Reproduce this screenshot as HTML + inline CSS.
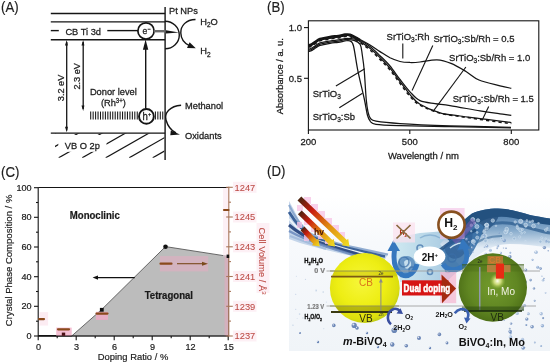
<!DOCTYPE html>
<html><head><meta charset="utf-8"><style>
html,body{margin:0;padding:0;background:#fff;width:550px;height:363px;overflow:hidden}
svg{display:block;filter:blur(0.45px)}
text{font-family:"Liberation Sans", sans-serif}
</style></head><body>
<svg width="550" height="363" viewBox="0 0 550 363">
<text x="1" y="11.9" font-size="13.2" fill="#202020" stroke="#202020" stroke-width="0.15" transform="matrix(1 0 0 1.075 0 -0.892)">(A)</text>
<g stroke="#151515" stroke-width="1.4" fill="none">
<line x1="50.8" y1="13.5" x2="165.1" y2="13.5"/>
<line x1="50.8" y1="21.9" x2="165.1" y2="21.9"/>
<line x1="50.8" y1="39.8" x2="165.1" y2="39.8"/>
<line x1="50.8" y1="133.1" x2="165.1" y2="133.1"/>
<line x1="50.8" y1="30.6" x2="58.8" y2="30.6"/>
<line x1="107.3" y1="30.6" x2="138" y2="30.6"/>
<line x1="165.1" y1="7" x2="165.1" y2="160"/>
<circle cx="146" cy="30.9" r="8.1" stroke-width="1.7" fill="#fff"/>
<circle cx="146.4" cy="116.4" r="7.4" stroke-width="1.9" fill="#fff"/>
<line x1="145.7" y1="108.8" x2="145.7" y2="46"/>
<line x1="66.7" y1="42" x2="66.7" y2="130.5" stroke-width="1.3"/>
<line x1="83.2" y1="42" x2="83.2" y2="109" stroke-width="1.3"/>
<path d="M165.1,21.2 A14.2,13.8 0 0 1 165.1,48.8"/>
<path d="M195.5,19.5 C186,19.5 180.5,26 180.8,33 C181,38 184,43 189,45.3"/>
<path d="M181.1,105.2 C170,106 164,113 166,120 C168,127 172,131 176,133"/>

</g>
<g fill="#151515">
<path d="M145.6,39.6 L142.9,49.8 L148.3,49.8 Z"/>
<path d="M66.7,40 L65.0,45.5 L67.9,45.5 Z"/>
<path d="M66.7,132.2 L65.0,126.8 L67.9,126.8 Z"/>
<path d="M83.2,40 L81.5,45.5 L84.4,45.5 Z"/>
<path d="M83.2,111 L81.5,105.5 L84.4,105.5 Z"/>
<path d="M166,30.2 L179,32.6 L166,33.5 Z"/>
<path d="M195.8,48.3 L189.6,42.2 L187,47.9 Z"/>
<path d="M180,134.5 L170.8,130.4 L170.3,135.2 Z"/>
</g>
<g stroke="#151515" stroke-width="1.05">
<line x1="90.70" y1="111.6" x2="90.70" y2="119.6"/>
<line x1="93.15" y1="111.6" x2="93.15" y2="119.6"/>
<line x1="95.60" y1="111.6" x2="95.60" y2="119.6"/>
<line x1="98.05" y1="111.6" x2="98.05" y2="119.6"/>
<line x1="100.50" y1="111.6" x2="100.50" y2="119.6"/>
<line x1="102.95" y1="111.6" x2="102.95" y2="119.6"/>
<line x1="105.40" y1="111.6" x2="105.40" y2="119.6"/>
<line x1="107.85" y1="111.6" x2="107.85" y2="119.6"/>
<line x1="110.30" y1="111.6" x2="110.30" y2="119.6"/>
<line x1="112.75" y1="111.6" x2="112.75" y2="119.6"/>
<line x1="115.20" y1="111.6" x2="115.20" y2="119.6"/>
<line x1="117.65" y1="111.6" x2="117.65" y2="119.6"/>
<line x1="120.10" y1="111.6" x2="120.10" y2="119.6"/>
<line x1="122.55" y1="111.6" x2="122.55" y2="119.6"/>
<line x1="125.00" y1="111.6" x2="125.00" y2="119.6"/>
<line x1="127.45" y1="111.6" x2="127.45" y2="119.6"/>
<line x1="129.90" y1="111.6" x2="129.90" y2="119.6"/>
<line x1="132.35" y1="111.6" x2="132.35" y2="119.6"/>
<line x1="134.80" y1="111.6" x2="134.80" y2="119.6"/>
<line x1="137.25" y1="111.6" x2="137.25" y2="119.6"/>
<line x1="155.40" y1="111.6" x2="155.40" y2="119.6"/>
<line x1="157.85" y1="111.6" x2="157.85" y2="119.6"/>
<line x1="160.30" y1="111.6" x2="160.30" y2="119.6"/>
<line x1="162.75" y1="111.6" x2="162.75" y2="119.6"/>
</g>
<rect x="154" y="30" width="11.5" height="2.4" fill="#6a6a6a"/>
<defs><clipPath id="hc"><rect x="55" y="133.6" width="109.3" height="24.2"/></clipPath></defs>
<g clip-path="url(#hc)" stroke="#151515" stroke-width="1.2">
<line x1="11.7" y1="157.8" x2="78.0" y2="120"/>
<line x1="35.2" y1="157.8" x2="101.5" y2="120"/>
<line x1="58.7" y1="157.8" x2="125.0" y2="120"/>
<line x1="82.2" y1="157.8" x2="148.5" y2="120"/>
<line x1="105.7" y1="157.8" x2="172.0" y2="120"/>
<line x1="129.2" y1="157.8" x2="195.5" y2="120"/>
<line x1="152.7" y1="157.8" x2="219.0" y2="120"/>
<line x1="176.2" y1="157.8" x2="242.5" y2="120"/>
</g>
<rect x="58.3" y="135" width="48.2" height="16.8" fill="#fff"/>
<g font-size="9.3" fill="#202020" stroke="#202020" stroke-width="0.26">
<text x="65.4" y="34.8" transform="matrix(1 0 0 1.050 0 -1.740)">CB Ti 3d</text>
<text x="169" y="14.5" transform="matrix(1 0 0 1.050 0 -0.725)">Pt NPs</text>
<text x="200.2" y="24.8" transform="matrix(1 0 0 1.050 0 -1.240)">H<tspan font-size="6.5" dy="2">2</tspan><tspan dy="-2">O</tspan></text>
<text x="200.2" y="54.5" transform="matrix(1 0 0 1.050 0 -2.725)">H<tspan font-size="6.5" dy="2">2</tspan></text>
<text x="89.9" y="95.1" transform="matrix(1 0 0 1.050 0 -4.755)">Donor level</text>
<text x="100.9" y="106.2" transform="matrix(1 0 0 1.050 0 -5.310)">(Rh<tspan font-size="6" dy="-3.3">3+</tspan><tspan dy="3.3">)</tspan></text>
<text x="185" y="109.5" transform="matrix(1 0 0 1.050 0 -5.475)">Methanol</text>
<text x="185" y="139.4" transform="matrix(1 0 0 1.050 0 -6.970)">Oxidants</text>
<text x="64.8" y="148.6" transform="matrix(1 0 0 1.050 0 -7.430)">VB O 2p</text>
<text transform="translate(63.6,101.2) rotate(-90)" font-size="9.2">3.2 eV</text>
<text transform="translate(80.4,89.6) rotate(-90)" font-size="9.2">2.3 eV</text>
<text x="142.6" y="34.2" font-size="8.6" transform="matrix(1 0 0 1.050 0 -1.710)">e<tspan font-size="5.5" dy="-3.4">−</tspan></text>
<text x="142.6" y="120.2" font-size="9.6" transform="matrix(1 0 0 1.050 0 -6.010)">h<tspan font-size="5.5" dy="-4.2">+</tspan></text>
</g>
<text x="267" y="11.9" font-size="13.2" fill="#202020" stroke="#202020" stroke-width="0.15" transform="matrix(1 0 0 1.075 0 -0.892)">(B)</text>
<rect x="308.4" y="20.8" width="230.4" height="109.2" fill="none" stroke="#151515" stroke-width="1.1"/>
<g stroke="#151515" stroke-width="1.1">
<line x1="304" y1="27.6" x2="308.4" y2="27.6"/><line x1="304" y1="78.3" x2="308.4" y2="78.3"/>
<line x1="308.4" y1="130" x2="308.4" y2="134"/>
<line x1="409.8" y1="130" x2="409.8" y2="134"/>
<line x1="511.3" y1="130" x2="511.3" y2="134"/>
</g>
<g font-size="9.5" fill="#202020" stroke="#202020" stroke-width="0.26">
<text x="302" y="31" text-anchor="end" transform="matrix(1 0 0 1.050 0 -1.550)">1.0</text>
<text x="302" y="81.6" text-anchor="end" transform="matrix(1 0 0 1.050 0 -4.080)">0.5</text>
<text x="308.4" y="145.3" text-anchor="middle" transform="matrix(1 0 0 1.050 0 -7.265)">200</text>
<text x="409.8" y="145.3" text-anchor="middle" transform="matrix(1 0 0 1.050 0 -7.265)">500</text>
<text x="511.3" y="145.3" text-anchor="middle" transform="matrix(1 0 0 1.050 0 -7.265)">800</text>
<text x="388" y="158.6" transform="matrix(1 0 0 1.050 0 -7.930)">Wavelength / nm</text>
<text transform="translate(283.4,114.3) rotate(-90)" font-size="9.4">Absorbance / a. u.</text>
<text x="386.6" y="39.8" transform="matrix(1 0 0 1.050 0 -1.990)">SrTiO<tspan font-size="6.5" dy="2">3</tspan><tspan dy="-2">:Rh</tspan></text>
<text x="433.4" y="41.8" transform="matrix(1 0 0 1.050 0 -2.090)">SrTiO<tspan font-size="6.5" dy="2">3</tspan><tspan dy="-2">:Sb/Rh = 0.5</tspan></text>
<text x="449.1" y="61.3" transform="matrix(1 0 0 1.050 0 -3.065)">SrTiO<tspan font-size="6.5" dy="2">3</tspan><tspan dy="-2">:Sb/Rh = 1.0</tspan></text>
<text x="452.7" y="102.2" transform="matrix(1 0 0 1.050 0 -5.110)">SrTiO<tspan font-size="6.5" dy="2">3</tspan><tspan dy="-2">:Sb/Rh = 1.5</tspan></text>
<text x="312.7" y="97" transform="matrix(1 0 0 1.050 0 -4.850)">SrTiO<tspan font-size="6.5" dy="2">3</tspan><tspan dy="-2"></tspan></text>
<text x="312.7" y="120.2" transform="matrix(1 0 0 1.050 0 -6.010)">SrTiO<tspan font-size="6.5" dy="2">3</tspan><tspan dy="-2">:Sb</tspan></text>
</g>
<g stroke="#151515" stroke-width="1.1">
<line x1="402.8" y1="43.5" x2="402.8" y2="58.4"/>
<line x1="432.8" y1="45.5" x2="412.1" y2="90.5"/>
<line x1="465.9" y1="67" x2="433.1" y2="111.3"/>
<line x1="488.7" y1="106.4" x2="482.7" y2="119.1"/>
<line x1="335.9" y1="86" x2="364.8" y2="68.7"/>
<line x1="339.3" y1="107.8" x2="362.5" y2="93.2"/>
</g>
<g fill="none" stroke="#151515" stroke-width="1.25" stroke-linejoin="round">
<path d="M308.5,45.2 C309.1,45.0 310.8,44.7 312.0,44.0 C313.2,43.3 314.7,42.1 316.0,41.2 C317.3,40.3 318.5,39.4 320.0,38.8 C321.5,38.2 323.3,38.1 325.0,37.8 C326.7,37.5 328.3,37.2 330.0,36.9 C331.7,36.6 333.3,36.4 335.0,36.2 C336.7,36.0 338.3,35.9 340.0,35.6 C341.7,35.3 343.3,34.6 345.0,34.4 C346.7,34.2 348.2,34.0 350.0,34.5 C351.8,35.0 354.3,36.6 356.0,37.5 C357.7,38.4 359.3,39.4 360.0,39.8" fill="none" stroke="#151515" stroke-width="2.2"/>
<path d="M308.5,51.6 C309.1,51.4 310.8,51.1 312.0,50.4 C313.2,49.7 314.7,48.5 316.0,47.6 C317.3,46.8 318.5,45.8 320.0,45.3 C321.5,44.8 323.3,44.6 325.0,44.3 C326.7,44.0 328.3,43.7 330.0,43.4 C331.7,43.1 333.3,42.9 335.0,42.7 C336.7,42.5 338.3,42.4 340.0,42.1 C341.7,41.8 343.3,41.1 345.0,40.9 C346.7,40.7 348.6,40.1 350.0,41.0 C351.4,41.9 352.2,40.9 353.5,46.0 C354.8,51.1 356.2,62.6 358.0,71.4 C359.8,80.2 362.7,91.7 364.3,99.0 C365.9,106.3 366.4,111.2 367.4,115.0 C368.4,118.8 369.1,120.0 370.5,121.6 C371.9,123.1 371.1,123.6 376.0,124.3 C380.9,125.0 387.7,125.2 400.0,125.6 C412.3,126.0 431.5,126.3 450.0,126.7 C468.5,127.1 500.8,127.7 511.0,127.9"/>
<path d="M308.5,50.4 C309.1,50.2 310.8,49.9 312.0,49.2 C313.2,48.5 314.7,47.2 316.0,46.4 C317.3,45.5 318.5,44.6 320.0,44.1 C321.5,43.5 323.3,43.4 325.0,43.1 C326.7,42.8 328.3,42.5 330.0,42.2 C331.7,41.9 333.3,41.7 335.0,41.5 C336.7,41.3 338.3,41.2 340.0,40.9 C341.7,40.6 342.7,39.8 345.0,39.7 C347.3,39.6 351.5,39.5 354.0,40.3 C356.5,41.1 358.8,42.0 360.2,44.5 C361.6,47.0 361.6,50.5 362.3,55.0 C363.0,59.5 363.7,64.1 364.3,71.4 C364.9,78.7 365.6,92.2 366.2,99.0 C366.8,105.8 367.3,108.8 368.0,112.0 C368.7,115.2 369.2,117.0 370.5,118.5 C371.8,120.0 371.1,120.4 376.0,121.2 C380.9,122.0 387.7,122.8 400.0,123.6 C412.3,124.4 431.5,125.2 450.0,125.8 C468.5,126.4 500.8,127.0 511.0,127.3"/>
<path d="M308.5,45.6 C309.1,45.4 310.8,45.1 312.0,44.4 C313.2,43.7 314.7,42.5 316.0,41.6 C317.3,40.8 318.5,39.8 320.0,39.3 C321.5,38.8 323.3,38.6 325.0,38.3 C326.7,38.0 328.3,37.7 330.0,37.4 C331.7,37.1 333.3,36.9 335.0,36.7 C336.7,36.5 338.3,36.4 340.0,36.1 C341.7,35.8 343.3,35.1 345.0,34.9 C346.7,34.7 347.5,34.2 350.0,35.0 C352.5,35.8 356.7,37.8 360.0,39.5 C363.3,41.2 366.7,43.0 370.0,45.0 C373.3,47.0 376.7,49.5 380.0,51.6 C383.3,53.7 386.7,56.1 390.0,57.8 C393.3,59.4 396.7,60.7 400.0,61.5 C403.3,62.3 406.7,62.4 410.0,62.5 C413.3,62.6 415.5,62.5 420.0,62.0 C424.5,61.5 431.8,59.6 437.0,59.8 C442.2,60.0 446.2,61.4 451.0,63.4 C455.8,65.3 461.3,68.7 466.0,71.5 C470.7,74.3 473.3,77.6 479.0,80.0 C484.7,82.4 494.6,84.4 500.0,85.8 C505.4,87.2 509.4,87.9 511.3,88.3"/>
<path d="M308.5,49.2 C309.1,49.0 310.8,48.7 312.0,48.0 C313.2,47.3 314.7,46.1 316.0,45.2 C317.3,44.4 318.5,43.5 320.0,42.9 C321.5,42.3 323.3,42.2 325.0,41.9 C326.7,41.6 328.3,41.3 330.0,41.0 C331.7,40.7 333.3,40.5 335.0,40.3 C336.7,40.1 338.3,40.0 340.0,39.7 C341.7,39.4 343.3,38.7 345.0,38.5 C346.7,38.3 347.5,38.3 350.0,38.6 C352.5,38.9 356.7,39.2 360.0,40.5 C363.3,41.8 366.7,44.1 370.0,46.6 C373.3,49.1 376.7,52.5 380.0,55.7 C383.3,58.9 386.7,62.0 390.0,66.0 C393.3,70.0 396.7,75.2 400.0,79.5 C403.3,83.8 406.7,88.4 410.0,91.9 C413.3,95.4 415.8,98.6 420.0,100.6 C424.2,102.5 430.0,102.8 435.0,103.6 C440.0,104.4 442.5,104.4 450.0,105.6 C457.5,106.8 471.7,109.5 480.0,110.9 C488.3,112.3 494.8,113.1 500.0,113.8 C505.2,114.5 509.4,115.0 511.3,115.3"/>
<path d="M308.5,46.5 C309.1,46.3 310.8,46.0 312.0,45.3 C313.2,44.6 314.7,43.4 316.0,42.5 C317.3,41.6 318.5,40.8 320.0,40.2 C321.5,39.6 323.3,39.5 325.0,39.2 C326.7,38.9 328.3,38.6 330.0,38.3 C331.7,38.0 333.3,37.8 335.0,37.6 C336.7,37.4 338.3,37.3 340.0,37.0 C341.7,36.7 343.3,36.0 345.0,35.8 C346.7,35.6 347.5,34.9 350.0,35.9 C352.5,36.9 356.7,39.4 360.0,41.5 C363.3,43.6 366.7,45.6 370.0,48.3 C373.3,51.0 376.7,54.3 380.0,57.6 C383.3,60.9 386.7,64.2 390.0,68.2 C393.3,72.2 396.7,77.2 400.0,81.6 C403.3,86.0 406.7,90.8 410.0,94.6 C413.3,98.4 415.0,101.2 420.0,104.2 C425.0,107.2 433.3,110.8 440.0,112.8 C446.7,114.8 453.3,115.0 460.0,116.0 C466.7,117.0 473.3,117.7 480.0,118.6 C486.7,119.5 494.8,120.5 500.0,121.2 C505.2,121.9 509.4,122.4 511.3,122.6"/>
<path d="M308.5,47.2 C309.1,47.0 310.8,46.7 312.0,46.0 C313.2,45.3 314.7,44.1 316.0,43.2 C317.3,42.4 318.5,41.5 320.0,40.9 C321.5,40.3 323.3,40.2 325.0,39.9 C326.7,39.6 328.3,39.3 330.0,39.0 C331.7,38.7 333.3,38.5 335.0,38.3 C336.7,38.1 338.3,38.0 340.0,37.7 C341.7,37.4 343.3,36.7 345.0,36.5 C346.7,36.3 347.5,35.6 350.0,36.6 C352.5,37.6 356.7,40.3 360.0,42.5 C363.3,44.7 366.7,47.2 370.0,50.0 C373.3,52.8 376.7,56.1 380.0,59.4 C383.3,62.7 386.7,66.0 390.0,70.0 C393.3,74.0 396.7,79.0 400.0,83.4 C403.3,87.8 406.7,92.7 410.0,96.3 C413.3,99.9 415.0,102.4 420.0,105.2 C425.0,108.0 433.3,111.2 440.0,113.1 C446.7,115.0 453.3,115.4 460.0,116.4 C466.7,117.5 473.3,118.4 480.0,119.4 C486.7,120.4 494.8,121.5 500.0,122.2 C505.2,122.9 509.4,123.3 511.3,123.5" stroke-dasharray="3.2,3" stroke-width="1.5"/>
</g>
<text x="1" y="176.6" font-size="13.2" fill="#202020" stroke="#202020" stroke-width="0.15" transform="matrix(1 0 0 1.075 0 -13.245)">(C)</text>
<polygon points="38.2,336.0 71.7,336.0 101.7,309.5 165.5,246.6 228.5,256.4 228.5,336.0" fill="#bcbcbc" stroke="#5a5a5a" stroke-width="0.9"/>
<line x1="38.2" y1="335.6" x2="71.7" y2="335.6" stroke="#111" stroke-width="1.4"/>
<rect x="224.5" y="256" width="4" height="80" fill="#e8a8c0" opacity="0.55"/><rect x="223" y="187.5" width="5.5" height="69" fill="#fbe6ee" opacity="0.6"/>
<g stroke="#151515" stroke-width="1.1" fill="none">
<line x1="38.2" y1="187.5" x2="228.5" y2="187.5"/>
<line x1="38.2" y1="187.5" x2="38.2" y2="336"/>
<line x1="38.2" y1="336" x2="228.5" y2="336"/>
<line x1="34" y1="336.0" x2="38.2" y2="336.0"/>
<line x1="34" y1="306.3" x2="38.2" y2="306.3"/>
<line x1="34" y1="276.7" x2="38.2" y2="276.7"/>
<line x1="34" y1="247.0" x2="38.2" y2="247.0"/>
<line x1="34" y1="217.3" x2="38.2" y2="217.3"/>
<line x1="34" y1="187.7" x2="38.2" y2="187.7"/>
<line x1="36" y1="321.2" x2="38.2" y2="321.2"/>
<line x1="36" y1="291.5" x2="38.2" y2="291.5"/>
<line x1="36" y1="261.8" x2="38.2" y2="261.8"/>
<line x1="36" y1="232.2" x2="38.2" y2="232.2"/>
<line x1="36" y1="202.5" x2="38.2" y2="202.5"/>
<line x1="38.2" y1="336" x2="38.2" y2="340.2"/>
<line x1="76.2" y1="336" x2="76.2" y2="340.2"/>
<line x1="114.2" y1="336" x2="114.2" y2="340.2"/>
<line x1="152.2" y1="336" x2="152.2" y2="340.2"/>
<line x1="190.2" y1="336" x2="190.2" y2="340.2"/>
<line x1="228.2" y1="336" x2="228.2" y2="340.2"/>
<line x1="57.2" y1="336" x2="57.2" y2="338.2"/>
<line x1="95.2" y1="336" x2="95.2" y2="338.2"/>
<line x1="133.2" y1="336" x2="133.2" y2="338.2"/>
<line x1="171.2" y1="336" x2="171.2" y2="338.2"/>
<line x1="209.2" y1="336" x2="209.2" y2="338.2"/>
</g>
<g stroke="#a8765a" stroke-width="1.1">
<line x1="228.8" y1="186.8" x2="228.8" y2="336.3"/>
<line x1="226.2" y1="336.0" x2="232.8" y2="336.0"/>
<line x1="226.2" y1="306.3" x2="232.8" y2="306.3"/>
<line x1="226.2" y1="276.5" x2="232.8" y2="276.5"/>
<line x1="226.2" y1="246.8" x2="232.8" y2="246.8"/>
<line x1="226.2" y1="217.0" x2="232.8" y2="217.0"/>
<line x1="226.2" y1="187.3" x2="232.8" y2="187.3"/>
<line x1="228.8" y1="321.1" x2="231" y2="321.1"/>
<line x1="228.8" y1="291.4" x2="231" y2="291.4"/>
<line x1="228.8" y1="261.6" x2="231" y2="261.6"/>
<line x1="228.8" y1="231.9" x2="231" y2="231.9"/>
<line x1="228.8" y1="202.2" x2="231" y2="202.2"/>
</g>
<rect x="233" y="330.5" width="23.5" height="11" fill="#fdeef4" opacity="0.9"/>
<rect x="233" y="300.8" width="23.5" height="11" fill="#fdeef4" opacity="0.9"/>
<rect x="233" y="271.0" width="23.5" height="11" fill="#fdeef4" opacity="0.9"/>
<rect x="233" y="241.3" width="23.5" height="11" fill="#fdeef4" opacity="0.9"/>
<rect x="233" y="211.5" width="23.5" height="11" fill="#fdeef4" opacity="0.9"/>
<rect x="233" y="181.8" width="23.5" height="11" fill="#fdeef4" opacity="0.9"/>
<rect x="256.5" y="223" width="13" height="70" fill="#fdeef4" opacity="0.9"/>
<g font-size="9.3" fill="#bc4a44" stroke="#bc4a44" stroke-width="0.08">
<text x="234.6" y="339.4" transform="matrix(1 0 0 1.050 0 -16.970)">1237</text>
<text x="234.6" y="309.7" transform="matrix(1 0 0 1.050 0 -15.485)">1239</text>
<text x="234.6" y="279.9" transform="matrix(1 0 0 1.050 0 -13.995)">1241</text>
<text x="234.6" y="250.2" transform="matrix(1 0 0 1.050 0 -12.510)">1243</text>
<text x="234.6" y="220.4" transform="matrix(1 0 0 1.050 0 -11.020)">1245</text>
<text x="234.6" y="190.7" transform="matrix(1 0 0 1.050 0 -9.535)">1247</text>
<text transform="translate(259.3,227.6) rotate(90)" font-size="9.3">Cell Volume / Å<tspan font-size="6" dy="-3.2">3</tspan></text>
</g>
<g font-size="9.1" fill="#202020" stroke="#202020" stroke-width="0.2">
<text x="31.6" y="339.2" text-anchor="end" transform="matrix(1 0 0 1.050 0 -16.960)">0</text>
<text x="31.6" y="309.5" text-anchor="end" transform="matrix(1 0 0 1.050 0 -15.475)">20</text>
<text x="31.6" y="279.9" text-anchor="end" transform="matrix(1 0 0 1.050 0 -13.995)">40</text>
<text x="31.6" y="250.2" text-anchor="end" transform="matrix(1 0 0 1.050 0 -12.510)">60</text>
<text x="31.6" y="220.5" text-anchor="end" transform="matrix(1 0 0 1.050 0 -11.025)">80</text>
<text x="31.6" y="190.8" text-anchor="end" transform="matrix(1 0 0 1.050 0 -9.540)">100</text>
<text x="38.6" y="349.8" text-anchor="middle" transform="matrix(1 0 0 1.050 0 -17.490)">0</text>
<text x="76.6" y="349.8" text-anchor="middle" transform="matrix(1 0 0 1.050 0 -17.490)">3</text>
<text x="114.6" y="349.8" text-anchor="middle" transform="matrix(1 0 0 1.050 0 -17.490)">6</text>
<text x="152.6" y="349.8" text-anchor="middle" transform="matrix(1 0 0 1.050 0 -17.490)">9</text>
<text x="190.6" y="349.8" text-anchor="middle" transform="matrix(1 0 0 1.050 0 -17.490)">12</text>
<text x="228.7" y="349.8" text-anchor="middle" transform="matrix(1 0 0 1.050 0 -17.490)">15</text>
</g>
<text x="97.8" y="359.6" font-size="9.4" fill="#202020" stroke="#202020" stroke-width="0.18" transform="matrix(1 0 0 1.050 0 -17.980)">Doping Ratio / %</text>
<text transform="translate(12.3,326.2) rotate(-90)" font-size="9.55" fill="#202020" stroke="#202020" stroke-width="0.18">Crystal Phase Composition / %</text>
<text x="69.8" y="218.7" font-size="9.6" font-weight="bold" fill="#1a1a1a" stroke="#1a1a1a" stroke-width="0.2" transform="matrix(1 0 0 1.050 0 -10.935)">Monoclinic</text>
<text x="144.7" y="299.3" font-size="9.6" font-weight="bold" fill="#1a1a1a" stroke="#1a1a1a" stroke-width="0.2" transform="matrix(1 0 0 1.050 0 -14.965)">Tetragonal</text>
<rect x="39.4" y="312.1" width="8.7" height="13.5" fill="#f0a9c4" opacity="0.22"/>
<rect x="56.2" y="327.6" width="15.5" height="8.1" fill="#f0a9c4" opacity="0.75"/>
<rect x="95.9" y="311.8" width="12.1" height="8.1" fill="#f0a9c4" opacity="0.8"/>
<rect x="159.9" y="256.1" width="48.3" height="15.3" fill="#f0a9c4" opacity="0.45"/>
<g stroke="#8a4a1c" stroke-width="2.2" stroke-linecap="round">
<line x1="39" y1="319.1" x2="44" y2="319.1"/>
<line x1="58" y1="329.3" x2="69" y2="329.3"/>
<line x1="96.5" y1="313.6" x2="107.5" y2="313.6"/>
<line x1="160.5" y1="263.7" x2="171.5" y2="263.7"/>
<line x1="224" y1="210" x2="228.5" y2="210"/>
</g>
<line x1="177" y1="263.7" x2="204" y2="263.7" stroke="#7a4a1c" stroke-width="1.1"/>
<path d="M208,263.7 L202,261.7 L202,265.7 Z" fill="#7a4a1c"/>
<line x1="134.8" y1="277.6" x2="96" y2="277.6" stroke="#111" stroke-width="1.2"/>
<path d="M92.6,277.6 L98,275.4 L98,279.8 Z" fill="#111"/>
<g fill="#111">
<rect x="99.9" y="307.9" width="3.8" height="3.8"/>
<circle cx="165.5" cy="246.8" r="2.3"/>
<rect x="61.8" y="332.6" width="3.4" height="3.2" fill="#4a0f14"/>
<rect x="226.6" y="254.6" width="2.6" height="3.4"/>
</g>
<text x="267" y="176.1" font-size="13.2" fill="#202020" stroke="#202020" stroke-width="0.15" transform="matrix(1 0 0 1.075 0 -13.207)">(D)</text>
<defs>
<radialGradient id="ys" cx="0.45" cy="0.42" r="0.62">
 <stop offset="0" stop-color="#f6f63a"/><stop offset="0.55" stop-color="#eeee14"/><stop offset="0.86" stop-color="#dcde0e"/><stop offset="1" stop-color="#b2c41c"/>
</radialGradient>
<radialGradient id="gs" cx="0.5" cy="0.48" r="0.6">
 <stop offset="0" stop-color="#729a2c"/><stop offset="0.6" stop-color="#608622"/><stop offset="0.88" stop-color="#4e7018"/><stop offset="1" stop-color="#3c5810"/>
</radialGradient>
<radialGradient id="glow" cx="0.5" cy="0.5" r="0.5">
 <stop offset="0" stop-color="#fffff0"/><stop offset="0.45" stop-color="#e8f090" stop-opacity="0.75"/><stop offset="1" stop-color="#a0c040" stop-opacity="0"/>
</radialGradient>
<linearGradient id="bgd" x1="0" y1="0" x2="0" y2="1">
 <stop offset="0" stop-color="#ffffff"/><stop offset="0.3" stop-color="#f7f9fc"/><stop offset="1" stop-color="#f0f4f8"/>
</linearGradient>
<linearGradient id="crest" x1="0" y1="0" x2="0" y2="1">
 <stop offset="0" stop-color="#2c5a88"/><stop offset="0.4" stop-color="#6a96be"/><stop offset="1" stop-color="#e8f1f8" stop-opacity="0"/>
</linearGradient>
<linearGradient id="midw" x1="0" y1="0" x2="1" y2="0">
 <stop offset="0" stop-color="#cfe9f1"/><stop offset="1" stop-color="#9cc0dc"/>
</linearGradient>
</defs>
<rect x="289" y="196" width="261" height="155" fill="url(#bgd)"/>
<path d="M394,238 L420,233 L446,231 L462,228 L468,262 L446,282 L400,282 Z" fill="url(#midw)"/>
<linearGradient id="cg" gradientUnits="userSpaceOnUse" x1="0" y1="212" x2="0" y2="248"><stop offset="0" stop-color="#4a7aaa"/><stop offset="0.5" stop-color="#86aacb"/><stop offset="1" stop-color="#e4edf6"/></linearGradient>
<path d="M440,244 C450,234 460,223 472,213.6 C480,210 488,208.6 498,208.5 C510,209 520,212 530,215 C540,217 546,218 550,218.5 L550,248 C538,246 524,244 510,244 C498,244 488,248 480,254 C474,258 468,264 462,268 Z" fill="url(#cg)"/>
<path d="M462,236 C470,226 478,218 490,212 C496,210 500,212 498,218 C494,226 486,232 476,238 C470,242 464,244 462,236 Z" fill="#1f4a78" opacity="0.75"/>
<path d="M446,238 C456,228 464,219 472,213.6 C480,210 488,208.6 498,208.5 C510,209 520,212 530,215 C540,217 546,218 550,218.5 L550,225 C540,224 530,222 518,219 C506,216 494,216 484,220 C474,225 462,233 452,243 Z" fill="#23517f"/>
<path d="M478,230 C490,222 504,221 518,225 C530,228 542,232 550,233" fill="none" stroke="#2f5f90" stroke-width="3" opacity="0.75"/>
<path d="M470,248 C478,240 490,236 502,236" fill="none" stroke="#3a6a9a" stroke-width="2" opacity="0.6"/>
<path d="M438,258 C444,244 456,234 470,226 C476,222 482,222 484,228 C480,240 472,256 462,266 C452,272 442,268 438,258 Z" fill="#3e74aa" opacity="0.9"/>
<path d="M440,250 C450,242 462,236 476,230" fill="none" stroke="#1d4a7a" stroke-width="3" opacity="0.8"/>
<path d="M398,262 C402,255 410,254 414,260 C418,266 414,274 406,275 C400,275 396,268 398,262 Z" fill="#4a7fb5" opacity="0.75"/>
<path d="M404,262 C406,259 410,259 411,263 C412,267 408,270 405,268 Z" fill="#cfe6f2" opacity="0.9"/>
<path d="M444,246 C452,238 462,232 472,230 C474,238 470,248 462,256 C454,262 446,258 444,246 Z" fill="#2f5f95" opacity="0.7"/>
<path d="M450,248 C455,244 460,242 464,244" fill="none" stroke="#d8ecf5" stroke-width="1.4" opacity="0.9"/>
<path d="M420,238 C426,234 434,234 440,238" fill="none" stroke="#7aa6cc" stroke-width="1.5" opacity="0.7"/>
<circle cx="404" cy="262" r="5" fill="none" stroke="#3a6ea6" stroke-width="1.6" opacity="0.7"/>
<circle cx="412" cy="270" r="3" fill="none" stroke="#3a6ea6" stroke-width="1.6" opacity="0.7"/>
<circle cx="420" cy="248" r="3" fill="none" stroke="#3a6ea6" stroke-width="1.6" opacity="0.7"/>
<circle cx="430" cy="272" r="2.5" fill="none" stroke="#3a6ea6" stroke-width="1.6" opacity="0.7"/>
<circle cx="452" cy="258" r="4" fill="none" stroke="#3a6ea6" stroke-width="1.6" opacity="0.7"/>
<circle cx="460" cy="248" r="3" fill="none" stroke="#3a6ea6" stroke-width="1.6" opacity="0.7"/>
<circle cx="448" cy="270" r="2.5" fill="none" stroke="#3a6ea6" stroke-width="1.6" opacity="0.7"/>
<path d="M289.0,201.0 L294.0,210.0 L300.0,222.0 L310.0,233.0 L325.0,240.5 L345.0,246.0 L370.0,251.0 L388.0,254.0 L384.0,261.0 L370.0,258.5 L345.0,254.5 L320.0,248.5 L300.0,243.0 L289.0,239.0 Z" fill="#c4d5ea" opacity="1"/>
<path d="M289,205 C293,213 298,223 308,232 C320,240 345,246 388,254.5" fill="none" stroke="#86a4cc" stroke-width="2" opacity="0.9"/>
<path d="M289,212 C294,220 300,229 310,236 C325,243 350,249 385,256.5" fill="none" stroke="#2e5590" stroke-width="2.8" opacity="0.9"/>
<path d="M289,219 C295,226 302,233 314,239 C330,245 355,251 380,258" fill="none" stroke="#f4f8fc" stroke-width="1.6" opacity="0.9"/>
<path d="M289,225 C296,231 305,237 318,242 C335,248 358,254 378,260" fill="none" stroke="#223f7a" stroke-width="3" opacity="0.9"/>
<path d="M289,231 C298,236 310,241 326,246.5 C340,251 354,255 368,260" fill="none" stroke="#6a88bc" stroke-width="2.4" opacity="0.85"/>
<path d="M290,236 C300,240 312,244 326,249" fill="none" stroke="#9eb6da" stroke-width="2" opacity="0.8"/>
<circle cx="505.7" cy="231.9" r="1.9" fill="#9cbad6" stroke="#dbe9f5" stroke-width="0.8" opacity="0.80"/>
<circle cx="506.8" cy="230.7" r="1.5" fill="#9cbad6" stroke="#dbe9f5" stroke-width="0.6" opacity="0.80"/>
<circle cx="484.6" cy="230.8" r="1.5" fill="#9cbad6" stroke="#dbe9f5" stroke-width="0.6" opacity="0.80"/>
<circle cx="532.6" cy="221.2" r="1.1" fill="#9cbad6" stroke="#dbe9f5" stroke-width="0.6" opacity="0.80"/>
<circle cx="477.2" cy="237.6" r="1.6" fill="#9cbad6" stroke="#dbe9f5" stroke-width="0.6" opacity="0.80"/>
<circle cx="473.3" cy="241.6" r="2.0" fill="#9cbad6" stroke="#dbe9f5" stroke-width="0.8" opacity="0.80"/>
<circle cx="521.7" cy="233.2" r="0.9" fill="#9cbad6" stroke="#dbe9f5" stroke-width="0.6" opacity="0.80"/>
<circle cx="471.2" cy="231.2" r="0.8" fill="#9cbad6" stroke="#dbe9f5" stroke-width="0.6" opacity="0.80"/>
<circle cx="485.0" cy="224.6" r="0.7" fill="#9cbad6" stroke="#dbe9f5" stroke-width="0.6" opacity="0.80"/>
<circle cx="506.7" cy="229.1" r="1.8" fill="#9cbad6" stroke="#dbe9f5" stroke-width="0.7" opacity="0.80"/>
<circle cx="511.0" cy="233.7" r="1.3" fill="#9cbad6" stroke="#dbe9f5" stroke-width="0.6" opacity="0.80"/>
<circle cx="522.3" cy="229.5" r="1.1" fill="#9cbad6" stroke="#dbe9f5" stroke-width="0.6" opacity="0.80"/>
<circle cx="548.8" cy="241.9" r="1.8" fill="#9cbad6" stroke="#dbe9f5" stroke-width="0.7" opacity="0.80"/>
<circle cx="525.9" cy="226.3" r="1.0" fill="#9cbad6" stroke="#dbe9f5" stroke-width="0.6" opacity="0.80"/>
<circle cx="492.8" cy="220.6" r="1.7" fill="#9cbad6" stroke="#dbe9f5" stroke-width="0.7" opacity="0.80"/>
<circle cx="501.6" cy="238.5" r="1.2" fill="#9cbad6" stroke="#dbe9f5" stroke-width="0.6" opacity="0.80"/>
<circle cx="545.7" cy="238.5" r="0.7" fill="#9cbad6" stroke="#dbe9f5" stroke-width="0.6" opacity="0.80"/>
<circle cx="486.6" cy="239.9" r="1.3" fill="#9cbad6" stroke="#dbe9f5" stroke-width="0.6" opacity="0.80"/>
<circle cx="547.4" cy="228.1" r="0.8" fill="#9cbad6" stroke="#dbe9f5" stroke-width="0.6" opacity="0.80"/>
<circle cx="519.7" cy="236.9" r="1.1" fill="#9cbad6" stroke="#dbe9f5" stroke-width="0.6" opacity="0.80"/>
<circle cx="476.9" cy="226.6" r="2.0" fill="#9cbad6" stroke="#dbe9f5" stroke-width="0.8" opacity="0.80"/>
<circle cx="529.9" cy="221.7" r="1.0" fill="#9cbad6" stroke="#dbe9f5" stroke-width="0.6" opacity="0.80"/>
<circle cx="478.0" cy="220.4" r="1.7" fill="#9cbad6" stroke="#dbe9f5" stroke-width="0.7" opacity="0.80"/>
<circle cx="484.0" cy="231.9" r="1.3" fill="#9cbad6" stroke="#dbe9f5" stroke-width="0.6" opacity="0.80"/>
<circle cx="485.1" cy="235.8" r="0.9" fill="#9cbad6" stroke="#dbe9f5" stroke-width="0.6" opacity="0.80"/>
<circle cx="520.9" cy="221.7" r="1.2" fill="#9cbad6" stroke="#dbe9f5" stroke-width="0.6" opacity="0.80"/>
<circle cx="486.8" cy="225.2" r="2.0" fill="#9cbad6" stroke="#dbe9f5" stroke-width="0.8" opacity="0.80"/>
<circle cx="533.5" cy="226.0" r="1.9" fill="#9cbad6" stroke="#dbe9f5" stroke-width="0.7" opacity="0.80"/>
<circle cx="486.6" cy="228.1" r="1.8" fill="#9cbad6" stroke="#dbe9f5" stroke-width="0.7" opacity="0.80"/>
<circle cx="520.7" cy="221.3" r="2.0" fill="#9cbad6" stroke="#dbe9f5" stroke-width="0.8" opacity="0.80"/>
<circle cx="486.8" cy="224.9" r="1.7" fill="#9cbad6" stroke="#dbe9f5" stroke-width="0.7" opacity="0.80"/>
<circle cx="496.0" cy="225.8" r="0.8" fill="#9cbad6" stroke="#dbe9f5" stroke-width="0.6" opacity="0.80"/>
<circle cx="477.1" cy="232.4" r="1.0" fill="#9cbad6" stroke="#dbe9f5" stroke-width="0.6" opacity="0.80"/>
<circle cx="517.5" cy="227.5" r="1.3" fill="#9cbad6" stroke="#dbe9f5" stroke-width="0.6" opacity="0.80"/>
<circle cx="545.8" cy="230.1" r="1.4" fill="#9cbad6" stroke="#dbe9f5" stroke-width="0.6" opacity="0.80"/>
<circle cx="538.5" cy="223.2" r="0.9" fill="#9cbad6" stroke="#dbe9f5" stroke-width="0.6" opacity="0.80"/>
<circle cx="541.8" cy="237.8" r="1.0" fill="#9cbad6" stroke="#dbe9f5" stroke-width="0.6" opacity="0.80"/>
<circle cx="485.0" cy="236.0" r="1.9" fill="#9cbad6" stroke="#dbe9f5" stroke-width="0.8" opacity="0.80"/>
<circle cx="485.5" cy="240.9" r="1.8" fill="#9cbad6" stroke="#dbe9f5" stroke-width="0.7" opacity="0.80"/>
<circle cx="517.7" cy="228.7" r="0.8" fill="#9cbad6" stroke="#dbe9f5" stroke-width="0.6" opacity="0.80"/>
<circle cx="473.1" cy="241.1" r="1.0" fill="#9cbad6" stroke="#dbe9f5" stroke-width="0.6" opacity="0.80"/>
<circle cx="525.7" cy="224.9" r="1.8" fill="#9cbad6" stroke="#dbe9f5" stroke-width="0.7" opacity="0.80"/>
<circle cx="517.1" cy="225.7" r="0.9" fill="#9cbad6" stroke="#dbe9f5" stroke-width="0.6" opacity="0.80"/>
<circle cx="526.9" cy="220.6" r="1.0" fill="#9cbad6" stroke="#dbe9f5" stroke-width="0.6" opacity="0.80"/>
<circle cx="514.2" cy="238.6" r="1.5" fill="#9cbad6" stroke="#dbe9f5" stroke-width="0.6" opacity="0.80"/>
<circle cx="492.1" cy="240.1" r="1.0" fill="#9cbad6" stroke="#dbe9f5" stroke-width="0.6" opacity="0.80"/>
<circle cx="471.3" cy="225.2" r="1.3" fill="#9cbad6" stroke="#dbe9f5" stroke-width="0.6" opacity="0.80"/>
<circle cx="474.8" cy="223.1" r="1.2" fill="#9cbad6" stroke="#dbe9f5" stroke-width="0.6" opacity="0.80"/>
<circle cx="515.2" cy="222.0" r="1.2" fill="#9cbad6" stroke="#dbe9f5" stroke-width="0.6" opacity="0.80"/>
<circle cx="540.4" cy="241.6" r="1.6" fill="#9cbad6" stroke="#dbe9f5" stroke-width="0.6" opacity="0.80"/>
<circle cx="524.6" cy="232.4" r="0.9" fill="#9cbad6" stroke="#dbe9f5" stroke-width="0.6" opacity="0.80"/>
<circle cx="472.8" cy="219.4" r="1.9" fill="#9cbad6" stroke="#dbe9f5" stroke-width="0.8" opacity="0.80"/>
<circle cx="525.4" cy="241.1" r="0.7" fill="#9cbad6" stroke="#dbe9f5" stroke-width="0.6" opacity="0.80"/>
<circle cx="520.3" cy="230.1" r="1.6" fill="#9cbad6" stroke="#dbe9f5" stroke-width="0.7" opacity="0.80"/>
<circle cx="495.2" cy="242.0" r="0.8" fill="#9cbad6" stroke="#dbe9f5" stroke-width="0.6" opacity="0.80"/>
<circle cx="526.8" cy="319.1" r="1.7" fill="#4f74ad" opacity="0.70"/>
<circle cx="526.3" cy="318.6" r="0.7" fill="#ffffff" opacity="0.8"/>
<circle cx="536.1" cy="252.2" r="1.8" fill="#8aa8d0" opacity="0.70"/>
<circle cx="535.6" cy="251.7" r="0.7" fill="#ffffff" opacity="0.8"/>
<circle cx="517.2" cy="313.4" r="1.7" fill="#8aa8d0" opacity="0.70"/>
<circle cx="516.7" cy="312.9" r="0.7" fill="#ffffff" opacity="0.8"/>
<circle cx="546.3" cy="241.3" r="1.2" fill="#6f93c4" opacity="0.70"/>
<circle cx="545.9" cy="241.0" r="0.5" fill="#ffffff" opacity="0.8"/>
<circle cx="530.6" cy="280.1" r="1.3" fill="#4f74ad" opacity="0.70"/>
<circle cx="530.2" cy="279.7" r="0.5" fill="#ffffff" opacity="0.8"/>
<circle cx="503.5" cy="248.0" r="0.7" fill="#8aa8d0" opacity="0.70"/>
<circle cx="503.3" cy="247.7" r="0.3" fill="#ffffff" opacity="0.8"/>
<circle cx="543.1" cy="318.1" r="1.1" fill="#4f74ad" opacity="0.70"/>
<circle cx="542.8" cy="317.8" r="0.4" fill="#ffffff" opacity="0.8"/>
<circle cx="534.0" cy="288.4" r="1.2" fill="#4f74ad" opacity="0.70"/>
<circle cx="533.7" cy="288.0" r="0.5" fill="#ffffff" opacity="0.8"/>
<circle cx="504.1" cy="320.5" r="0.6" fill="#4f74ad" opacity="0.70"/>
<circle cx="503.9" cy="320.3" r="0.3" fill="#ffffff" opacity="0.8"/>
<circle cx="504.3" cy="240.5" r="1.7" fill="#6f93c4" opacity="0.70"/>
<circle cx="503.8" cy="239.9" r="0.7" fill="#ffffff" opacity="0.8"/>
<circle cx="524.4" cy="305.6" r="1.7" fill="#8aa8d0" opacity="0.70"/>
<circle cx="523.9" cy="305.1" r="0.7" fill="#ffffff" opacity="0.8"/>
<circle cx="543.9" cy="278.5" r="0.8" fill="#4f74ad" opacity="0.70"/>
<circle cx="543.7" cy="278.2" r="0.3" fill="#ffffff" opacity="0.8"/>
<circle cx="509.9" cy="256.7" r="1.7" fill="#4f74ad" opacity="0.70"/>
<circle cx="509.4" cy="256.2" r="0.7" fill="#ffffff" opacity="0.8"/>
<circle cx="545.6" cy="292.8" r="0.9" fill="#8aa8d0" opacity="0.70"/>
<circle cx="545.3" cy="292.5" r="0.4" fill="#ffffff" opacity="0.8"/>
<circle cx="532.6" cy="259.8" r="1.1" fill="#6f93c4" opacity="0.70"/>
<circle cx="532.3" cy="259.5" r="0.4" fill="#ffffff" opacity="0.8"/>
<circle cx="543.1" cy="280.3" r="1.3" fill="#8aa8d0" opacity="0.70"/>
<circle cx="542.7" cy="279.9" r="0.5" fill="#ffffff" opacity="0.8"/>
<circle cx="510.3" cy="252.8" r="1.0" fill="#6f93c4" opacity="0.70"/>
<circle cx="510.0" cy="252.5" r="0.4" fill="#ffffff" opacity="0.8"/>
<circle cx="534.8" cy="342.5" r="0.9" fill="#6f93c4" opacity="0.70"/>
<circle cx="534.6" cy="342.2" r="0.4" fill="#ffffff" opacity="0.8"/>
<circle cx="505.5" cy="289.8" r="1.7" fill="#8aa8d0" opacity="0.70"/>
<circle cx="505.0" cy="289.3" r="0.7" fill="#ffffff" opacity="0.8"/>
<circle cx="518.7" cy="295.2" r="1.4" fill="#4f74ad" opacity="0.70"/>
<circle cx="518.3" cy="294.8" r="0.6" fill="#ffffff" opacity="0.8"/>
<circle cx="541.1" cy="346.0" r="1.1" fill="#6f93c4" opacity="0.70"/>
<circle cx="540.8" cy="345.7" r="0.5" fill="#ffffff" opacity="0.8"/>
<circle cx="540.6" cy="268.6" r="1.3" fill="#4f74ad" opacity="0.70"/>
<circle cx="540.2" cy="268.2" r="0.5" fill="#ffffff" opacity="0.8"/>
<circle cx="534.7" cy="300.8" r="1.0" fill="#4f74ad" opacity="0.70"/>
<circle cx="534.4" cy="300.5" r="0.4" fill="#ffffff" opacity="0.8"/>
<circle cx="500.9" cy="252.9" r="1.1" fill="#6f93c4" opacity="0.70"/>
<circle cx="500.6" cy="252.6" r="0.5" fill="#ffffff" opacity="0.8"/>
<circle cx="537.7" cy="267.3" r="1.5" fill="#6f93c4" opacity="0.70"/>
<circle cx="537.2" cy="266.8" r="0.6" fill="#ffffff" opacity="0.8"/>
<circle cx="548.2" cy="250.7" r="0.7" fill="#4f74ad" opacity="0.70"/>
<circle cx="548.0" cy="250.5" r="0.3" fill="#ffffff" opacity="0.8"/>
<circle cx="532.1" cy="326.8" r="1.8" fill="#4f74ad" opacity="0.70"/>
<circle cx="531.6" cy="326.3" r="0.7" fill="#ffffff" opacity="0.8"/>
<circle cx="509.7" cy="328.6" r="0.9" fill="#4f74ad" opacity="0.70"/>
<circle cx="509.4" cy="328.3" r="0.4" fill="#ffffff" opacity="0.8"/>
<circle cx="500.5" cy="289.9" r="1.5" fill="#6f93c4" opacity="0.70"/>
<circle cx="500.1" cy="289.5" r="0.6" fill="#ffffff" opacity="0.8"/>
<circle cx="511.1" cy="323.6" r="1.2" fill="#4f74ad" opacity="0.70"/>
<circle cx="510.7" cy="323.3" r="0.5" fill="#ffffff" opacity="0.8"/>
<circle cx="524.5" cy="347.6" r="0.8" fill="#4f74ad" opacity="0.70"/>
<circle cx="524.3" cy="347.4" r="0.3" fill="#ffffff" opacity="0.8"/>
<circle cx="544.4" cy="247.6" r="1.7" fill="#4f74ad" opacity="0.70"/>
<circle cx="543.9" cy="247.1" r="0.7" fill="#ffffff" opacity="0.8"/>
<circle cx="519.0" cy="287.6" r="0.8" fill="#6f93c4" opacity="0.70"/>
<circle cx="518.8" cy="287.3" r="0.3" fill="#ffffff" opacity="0.8"/>
<circle cx="518.5" cy="300.6" r="1.7" fill="#8aa8d0" opacity="0.70"/>
<circle cx="518.0" cy="300.1" r="0.7" fill="#ffffff" opacity="0.8"/>
<circle cx="522.7" cy="309.6" r="0.8" fill="#4f74ad" opacity="0.70"/>
<circle cx="522.5" cy="309.4" r="0.3" fill="#ffffff" opacity="0.8"/>
<circle cx="542.4" cy="325.8" r="1.7" fill="#6f93c4" opacity="0.70"/>
<circle cx="541.9" cy="325.3" r="0.7" fill="#ffffff" opacity="0.8"/>
<circle cx="510.5" cy="337.0" r="1.8" fill="#8aa8d0" opacity="0.70"/>
<circle cx="509.9" cy="336.5" r="0.7" fill="#ffffff" opacity="0.8"/>
<circle cx="526.3" cy="325.0" r="1.0" fill="#4f74ad" opacity="0.70"/>
<circle cx="526.0" cy="324.7" r="0.4" fill="#ffffff" opacity="0.8"/>
<circle cx="541.9" cy="276.3" r="0.7" fill="#8aa8d0" opacity="0.70"/>
<circle cx="541.7" cy="276.1" r="0.3" fill="#ffffff" opacity="0.8"/>
<circle cx="516.8" cy="284.4" r="0.9" fill="#6f93c4" opacity="0.70"/>
<circle cx="516.5" cy="284.1" r="0.4" fill="#ffffff" opacity="0.8"/>
<circle cx="510.7" cy="333.4" r="1.1" fill="#6f93c4" opacity="0.70"/>
<circle cx="510.4" cy="333.1" r="0.4" fill="#ffffff" opacity="0.8"/>
<circle cx="508.5" cy="274.9" r="1.5" fill="#6f93c4" opacity="0.70"/>
<circle cx="508.0" cy="274.4" r="0.6" fill="#ffffff" opacity="0.8"/>
<circle cx="523.1" cy="348.0" r="1.7" fill="#4f74ad" opacity="0.70"/>
<circle cx="522.6" cy="347.5" r="0.7" fill="#ffffff" opacity="0.8"/>
<circle cx="541.2" cy="313.8" r="1.7" fill="#8aa8d0" opacity="0.70"/>
<circle cx="540.6" cy="313.3" r="0.7" fill="#ffffff" opacity="0.8"/>
<circle cx="528.4" cy="313.8" r="1.5" fill="#8aa8d0" opacity="0.70"/>
<circle cx="527.9" cy="313.3" r="0.6" fill="#ffffff" opacity="0.8"/>
<circle cx="525.8" cy="269.9" r="1.5" fill="#4f74ad" opacity="0.70"/>
<circle cx="525.4" cy="269.5" r="0.6" fill="#ffffff" opacity="0.8"/>
<circle cx="508.1" cy="294.6" r="1.7" fill="#8aa8d0" opacity="0.70"/>
<circle cx="507.5" cy="294.1" r="0.7" fill="#ffffff" opacity="0.8"/>
<circle cx="515.3" cy="279.9" r="1.6" fill="#4f74ad" opacity="0.70"/>
<circle cx="514.8" cy="279.4" r="0.6" fill="#ffffff" opacity="0.8"/>
<circle cx="510.2" cy="331.6" r="1.8" fill="#4f74ad" opacity="0.70"/>
<circle cx="509.7" cy="331.1" r="0.7" fill="#ffffff" opacity="0.8"/>
<circle cx="513.4" cy="292.7" r="1.1" fill="#6f93c4" opacity="0.70"/>
<circle cx="513.0" cy="292.4" r="0.4" fill="#ffffff" opacity="0.8"/>
<circle cx="524.7" cy="304.6" r="0.6" fill="#6f93c4" opacity="0.70"/>
<circle cx="524.5" cy="304.4" r="0.3" fill="#ffffff" opacity="0.8"/>
<circle cx="525.3" cy="282.1" r="1.6" fill="#4f74ad" opacity="0.70"/>
<circle cx="524.8" cy="281.6" r="0.6" fill="#ffffff" opacity="0.8"/>
<circle cx="506.0" cy="248.3" r="0.8" fill="#4f74ad" opacity="0.70"/>
<circle cx="505.7" cy="248.0" r="0.3" fill="#ffffff" opacity="0.8"/>
<circle cx="522.5" cy="339.3" r="1.6" fill="#8aa8d0" opacity="0.70"/>
<circle cx="522.0" cy="338.8" r="0.6" fill="#ffffff" opacity="0.8"/>
<circle cx="513.2" cy="290.0" r="0.8" fill="#8aa8d0" opacity="0.70"/>
<circle cx="513.0" cy="289.8" r="0.3" fill="#ffffff" opacity="0.8"/>
<circle cx="496.6" cy="256.3" r="1.5" fill="#6f93c4" opacity="0.60"/>
<circle cx="496.2" cy="255.9" r="0.6" fill="#ffffff" opacity="0.8"/>
<circle cx="483.8" cy="234.8" r="1.1" fill="#6f93c4" opacity="0.60"/>
<circle cx="483.5" cy="234.5" r="0.4" fill="#ffffff" opacity="0.8"/>
<circle cx="467.0" cy="238.8" r="1.3" fill="#6f93c4" opacity="0.60"/>
<circle cx="466.6" cy="238.4" r="0.5" fill="#ffffff" opacity="0.8"/>
<circle cx="499.2" cy="232.9" r="0.8" fill="#6f93c4" opacity="0.60"/>
<circle cx="499.0" cy="232.7" r="0.3" fill="#ffffff" opacity="0.8"/>
<circle cx="466.4" cy="239.4" r="1.4" fill="#6f93c4" opacity="0.60"/>
<circle cx="466.0" cy="239.0" r="0.5" fill="#ffffff" opacity="0.8"/>
<circle cx="474.3" cy="245.0" r="1.1" fill="#6f93c4" opacity="0.60"/>
<circle cx="474.0" cy="244.6" r="0.5" fill="#ffffff" opacity="0.8"/>
<circle cx="485.8" cy="254.1" r="1.3" fill="#6f93c4" opacity="0.60"/>
<circle cx="485.4" cy="253.8" r="0.5" fill="#ffffff" opacity="0.8"/>
<circle cx="490.4" cy="250.2" r="1.5" fill="#6f93c4" opacity="0.60"/>
<circle cx="490.0" cy="249.8" r="0.6" fill="#ffffff" opacity="0.8"/>
<circle cx="466.8" cy="248.5" r="1.4" fill="#6f93c4" opacity="0.60"/>
<circle cx="466.4" cy="248.0" r="0.6" fill="#ffffff" opacity="0.8"/>
<circle cx="486.9" cy="246.0" r="1.5" fill="#6f93c4" opacity="0.60"/>
<circle cx="486.5" cy="245.5" r="0.6" fill="#ffffff" opacity="0.8"/>
<circle cx="484.2" cy="237.7" r="0.9" fill="#6f93c4" opacity="0.60"/>
<circle cx="483.9" cy="237.4" r="0.4" fill="#ffffff" opacity="0.8"/>
<circle cx="484.5" cy="247.3" r="0.8" fill="#6f93c4" opacity="0.60"/>
<circle cx="484.2" cy="247.0" r="0.3" fill="#ffffff" opacity="0.8"/>
<circle cx="497.1" cy="248.3" r="1.0" fill="#6f93c4" opacity="0.60"/>
<circle cx="496.8" cy="248.0" r="0.4" fill="#ffffff" opacity="0.8"/>
<circle cx="472.2" cy="247.7" r="1.5" fill="#6f93c4" opacity="0.60"/>
<circle cx="471.7" cy="247.2" r="0.6" fill="#ffffff" opacity="0.8"/>
<circle cx="472.6" cy="252.2" r="0.9" fill="#6f93c4" opacity="0.60"/>
<circle cx="472.4" cy="252.0" r="0.4" fill="#ffffff" opacity="0.8"/>
<circle cx="469.3" cy="255.1" r="0.8" fill="#6f93c4" opacity="0.60"/>
<circle cx="469.0" cy="254.9" r="0.3" fill="#ffffff" opacity="0.8"/>
<circle cx="469.0" cy="242.1" r="1.1" fill="#6f93c4" opacity="0.60"/>
<circle cx="468.7" cy="241.8" r="0.4" fill="#ffffff" opacity="0.8"/>
<circle cx="498.0" cy="246.1" r="1.3" fill="#6f93c4" opacity="0.60"/>
<circle cx="497.6" cy="245.7" r="0.5" fill="#ffffff" opacity="0.8"/>
<circle cx="333.8" cy="325.4" r="1.8" fill="#3f62a0" opacity="0.75"/>
<circle cx="333.3" cy="324.9" r="0.7" fill="#ffffff" opacity="0.8"/>
<circle cx="354.2" cy="325.4" r="2.6" fill="#3f62a0" opacity="0.75"/>
<circle cx="353.4" cy="324.6" r="1.0" fill="#ffffff" opacity="0.8"/>
<circle cx="357.0" cy="328.0" r="1.8" fill="#3f62a0" opacity="0.75"/>
<circle cx="356.5" cy="327.5" r="0.7" fill="#ffffff" opacity="0.8"/>
<circle cx="394.3" cy="330.2" r="2.8" fill="#3f62a0" opacity="0.75"/>
<circle cx="393.5" cy="329.4" r="1.1" fill="#ffffff" opacity="0.8"/>
<circle cx="392.3" cy="344.5" r="2.2" fill="#3f62a0" opacity="0.75"/>
<circle cx="391.6" cy="343.8" r="0.9" fill="#ffffff" opacity="0.8"/>
<circle cx="419.0" cy="338.0" r="2.0" fill="#3f62a0" opacity="0.75"/>
<circle cx="418.4" cy="337.4" r="0.8" fill="#ffffff" opacity="0.8"/>
<circle cx="439.4" cy="334.4" r="1.8" fill="#3f62a0" opacity="0.75"/>
<circle cx="438.9" cy="333.9" r="0.7" fill="#ffffff" opacity="0.8"/>
<circle cx="406.3" cy="345.8" r="1.8" fill="#3f62a0" opacity="0.75"/>
<circle cx="405.8" cy="345.3" r="0.7" fill="#ffffff" opacity="0.8"/>
<circle cx="300.0" cy="333.0" r="1.0" fill="#3f62a0" opacity="0.75"/>
<circle cx="299.7" cy="332.7" r="0.4" fill="#ffffff" opacity="0.8"/>
<circle cx="318.0" cy="342.0" r="1.2" fill="#3f62a0" opacity="0.75"/>
<circle cx="317.6" cy="341.6" r="0.5" fill="#ffffff" opacity="0.8"/>
<circle cx="447.0" cy="343.0" r="1.4" fill="#3f62a0" opacity="0.75"/>
<circle cx="446.6" cy="342.6" r="0.6" fill="#ffffff" opacity="0.8"/>
<circle cx="378.0" cy="347.0" r="1.2" fill="#3f62a0" opacity="0.75"/>
<circle cx="377.6" cy="346.6" r="0.5" fill="#ffffff" opacity="0.8"/>
<circle cx="367.0" cy="333.0" r="1.2" fill="#3f62a0" opacity="0.75"/>
<circle cx="366.6" cy="332.6" r="0.5" fill="#ffffff" opacity="0.8"/>
<circle cx="430.0" cy="348.0" r="1.2" fill="#3f62a0" opacity="0.75"/>
<circle cx="429.6" cy="347.6" r="0.5" fill="#ffffff" opacity="0.8"/>
<circle cx="299.6" cy="314.1" r="0.8" fill="#9ab4d6" opacity="0.50"/>
<circle cx="299.4" cy="313.9" r="0.3" fill="#ffffff" opacity="0.8"/>
<circle cx="295.7" cy="309.3" r="0.6" fill="#9ab4d6" opacity="0.50"/>
<circle cx="295.5" cy="309.1" r="0.2" fill="#ffffff" opacity="0.8"/>
<circle cx="323.2" cy="292.0" r="0.8" fill="#9ab4d6" opacity="0.50"/>
<circle cx="323.0" cy="291.8" r="0.3" fill="#ffffff" opacity="0.8"/>
<circle cx="316.1" cy="290.5" r="0.9" fill="#9ab4d6" opacity="0.50"/>
<circle cx="315.8" cy="290.2" r="0.4" fill="#ffffff" opacity="0.8"/>
<circle cx="323.7" cy="328.6" r="0.6" fill="#9ab4d6" opacity="0.50"/>
<circle cx="323.5" cy="328.4" r="0.3" fill="#ffffff" opacity="0.8"/>
<circle cx="292.9" cy="325.2" r="0.7" fill="#9ab4d6" opacity="0.50"/>
<circle cx="292.7" cy="325.0" r="0.3" fill="#ffffff" opacity="0.8"/>
<circle cx="326.4" cy="301.9" r="0.5" fill="#9ab4d6" opacity="0.50"/>
<circle cx="326.2" cy="301.8" r="0.2" fill="#ffffff" opacity="0.8"/>
<circle cx="296.4" cy="276.3" r="0.5" fill="#9ab4d6" opacity="0.50"/>
<circle cx="296.2" cy="276.2" r="0.2" fill="#ffffff" opacity="0.8"/>
<circle cx="302.8" cy="317.9" r="0.7" fill="#9ab4d6" opacity="0.50"/>
<circle cx="302.6" cy="317.6" r="0.3" fill="#ffffff" opacity="0.8"/>
<circle cx="297.1" cy="318.5" r="0.4" fill="#9ab4d6" opacity="0.50"/>
<circle cx="297.0" cy="318.4" r="0.2" fill="#ffffff" opacity="0.8"/>
<circle cx="295.7" cy="294.4" r="0.6" fill="#9ab4d6" opacity="0.50"/>
<circle cx="295.5" cy="294.3" r="0.2" fill="#ffffff" opacity="0.8"/>
<circle cx="305.5" cy="279.4" r="0.6" fill="#9ab4d6" opacity="0.50"/>
<circle cx="305.3" cy="279.3" r="0.2" fill="#ffffff" opacity="0.8"/>
<path d="M394.5,250 C393,262 395,271 402,275 C409,278 415,272 417,264" fill="none" stroke="#3577be" stroke-width="5"/>
<path d="M393.5,240 L387.5,251 L400,251 Z" fill="#3577be"/>
<path d="M443,264 C447,271 457,272 464,265 C468,259 467,252 465,248" fill="none" stroke="#3577be" stroke-width="5"/>
<path d="M462.6,238.5 L457.5,250 L470.5,248.5 Z" fill="#3577be"/>
<ellipse cx="429.6" cy="256.5" rx="15.8" ry="10" fill="#ffffff"/>
<text x="421.8" y="260.6" font-size="10" font-weight="bold" fill="#111">2H<tspan font-size="6" dy="-3.8">+</tspan></text>
<line x1="326.5" y1="271" x2="540" y2="271" stroke="#a0a0a0" stroke-width="0.9"/>
<line x1="326.5" y1="306" x2="536" y2="306" stroke="#a0a0a0" stroke-width="0.9"/>
<circle cx="364.8" cy="288" r="34.9" fill="url(#ys)"/>
<circle cx="492.8" cy="287.5" r="34.2" fill="url(#gs)"/>
<clipPath id="ysc"><circle cx="364.8" cy="288" r="34.9"/></clipPath>
<g clip-path="url(#ysc)"><rect x="329" y="271" width="72" height="5.4" fill="#9a8a00" opacity="0.22"/><rect x="329" y="306.2" width="72" height="5.4" fill="#5a5a00" opacity="0.35"/></g>
<line x1="331" y1="276.6" x2="393" y2="276.6" stroke="#7a5a14" stroke-width="1.8"/>
<line x1="331" y1="311.9" x2="392" y2="311.9" stroke="#3a3a12" stroke-width="2"/>
<line x1="330" y1="271" x2="399" y2="271" stroke="#8a8a50" stroke-width="0.9"/>
<line x1="330" y1="306" x2="399" y2="306" stroke="#8a8a50" stroke-width="0.9"/>
<line x1="380.9" y1="311" x2="380.9" y2="281" stroke="#8a8a8a" stroke-width="1"/>
<path d="M380.9,278 L379,282.5 L382.8,282.5 Z" fill="#8a8a8a"/>
<text x="359" y="286.2" font-size="10" fill="#d9741a">CB</text>
<text x="359.3" y="322" font-size="10" fill="#2a2a10">VB</text>
<text x="378.6" y="275" font-size="4.5" fill="#333">2e</text>
<text x="378.6" y="316" font-size="4.5" fill="#333">2h</text>
<rect x="462" y="264.5" width="62" height="7" fill="#4a6a18" opacity="0.35"/>
<line x1="462" y1="264.8" x2="524" y2="264.8" stroke="#3a5a14" stroke-width="0.8"/>
<rect x="487.5" y="256" width="15.5" height="8" fill="#c8783a" opacity="0.75"/>
<rect x="487" y="264.8" width="23.5" height="7.4" fill="#d8804a" opacity="0.7"/>
<circle cx="497.5" cy="281" r="8" fill="url(#glow)"/>
<rect x="495.9" y="263.6" width="8.1" height="15" fill="#e82a14"/>
<text x="489" y="263.2" font-size="8.5" fill="#e07a30">CB</text>
<line x1="479.8" y1="267" x2="479.8" y2="310.7" stroke="#9c9cd0" stroke-width="1.2"/>
<text x="477.4" y="262.5" font-size="4.5" fill="#222">2e</text>
<rect x="462" y="306.5" width="62" height="4.5" fill="#2e4a12" opacity="0.55"/>
<line x1="464" y1="311" x2="522" y2="311" stroke="#1a2a0e" stroke-width="1.6"/>
<text x="490.5" y="320.6" font-size="10" fill="#1e2a10">VB</text>
<text x="487.2" y="295" font-size="10" fill="#f2f2e4">In, Mo</text>
<rect x="440.2" y="272" width="16" height="31.2" fill="#f5b8d2" opacity="0.75"/>
<rect x="402" y="280.3" width="46.5" height="15.2" fill="#d61414"/>
<path d="M441.5,274.5 L456.1,288.5 L442,303.2 Z" fill="#a42a10"/>
<text transform="translate(403.6,292.4) scale(0.71,1)" font-size="11.4" font-weight="bold" fill="#fff" stroke="#fff" stroke-width="0.6">Dual doping</text>
<rect x="304" y="197" width="7" height="7" fill="#f7c6e6" opacity="0.8"/>
<rect x="311" y="204" width="7" height="7" fill="#f7c6e6" opacity="0.8"/>
<rect x="318" y="211" width="7" height="7" fill="#f7c6e6" opacity="0.8"/>
<rect x="325" y="218" width="7" height="7" fill="#f7c6e6" opacity="0.8"/>
<rect x="332" y="225" width="7" height="7" fill="#f7c6e6" opacity="0.8"/>
<rect x="339" y="232" width="6" height="6" fill="#f7c6e6" opacity="0.8"/>
<rect x="297" y="205" width="6" height="6" fill="#f7c6e6" opacity="0.8"/>
<rect x="304" y="219" width="6" height="6" fill="#f7c6e6" opacity="0.8"/>
<rect x="311" y="226" width="6" height="6" fill="#f7c6e6" opacity="0.8"/>
<rect x="318" y="233" width="6" height="6" fill="#f7c6e6" opacity="0.8"/>
<rect x="297" y="222" width="5" height="6" fill="#f7c6e6" opacity="0.8"/>
<rect x="304" y="235" width="5" height="6" fill="#f7c6e6" opacity="0.8"/>
<rect x="325" y="239" width="5" height="5" fill="#f7c6e6" opacity="0.8"/>
<linearGradient id="hv1" gradientUnits="userSpaceOnUse" x1="299.4" y1="198.5" x2="349.5" y2="246.5"><stop offset="0" stop-color="#4a2410"/><stop offset="0.25" stop-color="#c81c10"/><stop offset="0.6" stop-color="#e09010"/><stop offset="1" stop-color="#f2e024"/></linearGradient>
<polygon points="297.5,200.4 343.0,243.8 341.7,245.2 349.5,246.5 348.2,238.7 346.8,240.0 301.3,196.6" fill="url(#hv1)"/>
<linearGradient id="hv2" gradientUnits="userSpaceOnUse" x1="299.8" y1="212.3" x2="335.0" y2="246.5"><stop offset="0" stop-color="#4a2410"/><stop offset="0.25" stop-color="#c81c10"/><stop offset="0.6" stop-color="#e09010"/><stop offset="1" stop-color="#f2e024"/></linearGradient>
<polygon points="297.9,214.2 328.5,243.8 327.2,245.2 335.0,246.5 333.7,238.7 332.3,240.0 301.7,210.4" fill="url(#hv2)"/>
<linearGradient id="hv3" gradientUnits="userSpaceOnUse" x1="302.5" y1="228.5" x2="319.7" y2="246.5"><stop offset="0" stop-color="#4a2410"/><stop offset="0.25" stop-color="#c81c10"/><stop offset="0.6" stop-color="#e09010"/><stop offset="1" stop-color="#f2e024"/></linearGradient>
<polygon points="300.6,230.4 313.2,243.8 311.9,245.2 319.7,246.5 318.4,238.7 317.0,240.0 304.4,226.6" fill="url(#hv3)"/>
<text x="314" y="235" font-size="8.5" font-weight="bold" fill="#4a1508">hv</text>
<text transform="translate(304.3,263.2) scale(0.88,1)" font-size="6.6" font-weight="bold" fill="#111" stroke="#111" stroke-width="0.35">H<tspan font-size="4.4" dy="1.5">2</tspan><tspan dy="-1.5">/H</tspan><tspan font-size="4.4" dy="1.5">2</tspan><tspan dy="-1.5">O</tspan></text>
<text x="314.2" y="273.2" font-size="7.2" font-weight="bold" fill="#7a7a7a" stroke="#7a7a7a" stroke-width="0.2">0 V</text>
<text transform="translate(307.3,309) scale(0.86,1)" font-size="6.8" font-weight="bold" fill="#7a7a7a" stroke="#7a7a7a" stroke-width="0.2">1.23 V</text>
<text transform="translate(304.6,319.3) scale(0.78,1)" font-size="6.8" font-weight="bold" fill="#111" stroke="#111" stroke-width="0.35">H<tspan font-size="4.4" dy="1.5">2</tspan><tspan dy="-1.5">O/O</tspan><tspan font-size="4.4" dy="1.5">2</tspan></text>
<rect x="393" y="222.5" width="22" height="20" fill="#fbe0ec" opacity="0.7"/>
<text x="399.5" y="235" font-size="7" font-weight="bold" fill="#b83018">H<tspan font-size="4.5" dy="1.5">2</tspan></text>
<path d="M396.5,225 L410.5,238.5 M410.5,225 L396.5,238.5" stroke="#8a6a40" stroke-width="1.7"/>
<rect x="440" y="208" width="24.6" height="31" fill="#f4c0e4" opacity="0.6"/>
<path d="M452,240 C458,234 464,228 472,218 L476,222 C470,232 462,240 456,244 Z" fill="#7a5ab0" opacity="0.55"/>
<circle cx="451.5" cy="224.7" r="13.1" fill="#fff" stroke="#875020" stroke-width="2.6"/>
<text x="444.2" y="227.2" font-size="12.2" font-weight="bold" fill="#111">H<tspan font-size="8" dy="3">2</tspan></text>
<path d="M391,324.2 C386,320 387,311 394.3,308.8 C397,308.5 399,310 400,311.5" fill="none" stroke="#3a4fa0" stroke-width="2.6"/>
<path d="M403,314 L396.5,313.5 L400.5,308.2 Z" fill="#3a4fa0"/>
<text x="405" y="318.5" font-size="7" font-weight="bold" fill="#111">O<tspan font-size="4.5" dy="1.5">2</tspan></text>
<text x="393.2" y="330.2" font-size="7.2" font-weight="bold" fill="#111">2H<tspan font-size="4.5" dy="1.5">2</tspan><tspan dy="-1.5">O</tspan></text>
<path d="M454.7,313.2 C458,309 463,308 466.5,310.5 C469,313 468.5,316 467.5,318.5" fill="none" stroke="#3a5fb0" stroke-width="2.6"/>
<path d="M466.5,323.5 L464,317.5 L470.5,318.5 Z" fill="#3a5fb0"/>
<text x="435.5" y="316.5" font-size="7.2" font-weight="bold" fill="#111">2H<tspan font-size="4.5" dy="1.5">2</tspan><tspan dy="-1.5">O</tspan></text>
<text x="458.6" y="328.6" font-size="7.2" font-weight="bold" fill="#111">O<tspan font-size="4.5" dy="1.5">2</tspan></text>
<text x="343.1" y="344.9" font-size="10.8" font-weight="bold" fill="#111"><tspan font-style="italic">m</tspan>-BiVO<tspan font-size="7" dy="2">4</tspan></text>
<text x="458.7" y="345.5" font-size="11" font-weight="bold" fill="#111">BiVO<tspan font-size="7" dy="2">4</tspan><tspan dy="-2">:In, Mo</tspan></text>
</svg>
</body></html>
